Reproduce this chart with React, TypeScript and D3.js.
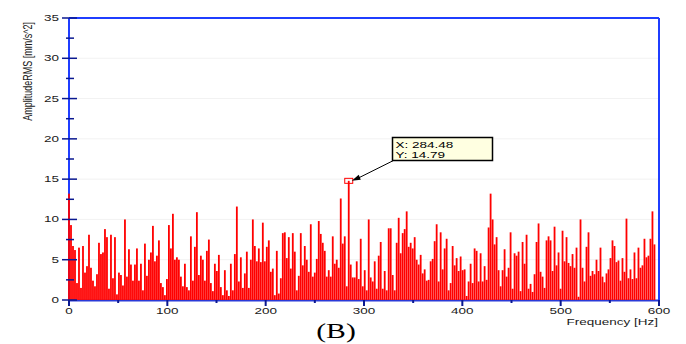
import React from 'react';
import * as d3 from 'd3';

// amplitude spectrum, one value per frequency line
const amp0to100 = [
  13.2, 9.3, 6.7, 6.2, 2.1, 6.5, 1.5, 6.7, 3.4, 4.2,
  8.1, 4.0, 2.4, 1.7, 3.2, 7.1, 5.7, 5.9, 8.8, 7.8,
  1.4, 8.1, 2.7, 7.8, 0.7, 3.4, 3.1, 1.8, 10.0, 2.9,
  6.3, 4.4, 2.4, 4.4, 6.4, 2.4, 4.5, 1.2, 7.0, 3.0,
  5.0, 5.9, 9.2, 4.8, 5.5, 7.4, 2.1, 1.6, 0.6, 2.6,
  9.3,
];
const amp100to200 = [
  6.4, 10.7, 5.0, 5.3, 5.0, 2.9, 1.7, 4.5, 1.6, 1.2,
  7.9, 2.4, 6.6, 10.9, 3.1, 5.5, 5.0, 2.4, 6.1, 7.5,
  2.1, 1.1, 4.5, 3.6, 5.6, 1.6, 0.6, 3.7, 1.2, 0.5,
  4.5, 1.2, 5.7, 11.6, 2.3, 5.3, 1.5, 3.3, 6.0, 1.5,
  5.0, 10.0, 6.7, 4.8, 6.4, 4.7, 9.6, 4.8, 6.6, 7.4,
  3.5, 3.9,
];
const amp200to310 = [
  0.6, 6.1, 0.8, 2.7, 8.3, 8.4, 5.2, 7.8, 3.9, 8.3,
  6.0, 1.2, 3.0, 8.3, 4.3, 6.7, 5.0, 3.5, 9.4, 2.9,
  3.4, 5.1, 9.8, 8.2, 7.1, 6.1, 2.9, 3.7, 2.9, 7.9,
  4.5, 5.0, 4.0, 12.6, 7.0, 7.9, 1.7, 14.79, 4.4, 2.8,
  2.8, 4.8, 2.6, 7.6, 1.7, 3.7, 1.2, 10.0, 2.8, 2.3,
  4.8, 1.4, 5.5,
];
const amp310to420 = [
  7.2, 1.4, 3.6, 1.2, 8.9, 8.9, 3.1, 1.2, 7.1, 10.2,
  5.8, 8.3, 8.8, 11.0, 6.6, 7.1, 6.4, 7.8, 5.0, 4.4,
  5.6, 3.3, 3.8, 2.4, 2.5, 4.8, 5.1, 7.3, 9.4, 2.3,
  8.4, 3.8, 6.4, 7.6, 1.2, 2.1, 6.7, 4.3, 5.2, 3.6,
  5.4, 3.7, 3.8, 0.5, 2.3, 4.5, 2.1, 6.4, 6.1, 2.3,
  5.8, 2.3, 4.2,
];
const amp420to530 = [
  2.5, 9.0, 13.2, 10.0, 6.9, 7.8, 3.7, 1.7, 3.7, 6.3,
  2.9, 4.0, 8.4, 1.4, 5.8, 5.5, 6.0, 1.1, 7.2, 4.5,
  8.1, 1.4, 2.0, 1.0, 3.2, 7.2, 9.5, 3.5, 2.9, 1.5,
  7.4, 7.9, 7.4, 3.6, 9.1, 4.3, 5.9, 1.4, 8.6, 4.8,
  7.8, 4.6, 4.2, 5.7, 4.0, 6.5, 0.4, 10.0, 4.0, 2.3,
  6.6, 8.4,
];
const amp530to600 = [
  3.0, 3.6, 3.2, 5.0, 3.6, 6.5, 2.9, 2.2, 3.3, 3.8,
  5.2, 7.4, 6.7, 4.7, 4.9, 2.4, 5.2, 3.5, 10.1, 2.7,
  3.8, 2.6, 5.9, 2.7, 6.5, 4.0, 4.3, 7.6, 5.3, 5.5,
  7.6, 11.0, 6.9,
];

const peakFreq = 284.48;
const peakAmp = 14.79;
const peakIndex = 140;
const xTicks = [0, 100, 200, 300, 400, 500, 600];
const yTicks = [0, 5, 10, 15, 20, 25, 30, 35];

const amps = [...amp0to100, ...amp100to200, ...amp200to310, ...amp310to420, ...amp420to530, ...amp530to600];
const df = peakFreq / peakIndex;

const SX = 1.5; // the picture is stretched sideways, text too
const sans = '"Liberation Sans", Arial, sans-serif';

function SText({ x, y, size, anchor = 'start', sx = SX, fill = '#1a1a1a', family = sans, children }: any) {
  return (
    <text transform={`translate(${x},${y}) scale(${sx},1)`} fontSize={size} fontFamily={family}
      textAnchor={anchor} fill={fill}>{children}</text>
  );
}

export default function App() {
  const x = d3.scaleLinear().domain([0, 600]).range([69, 659]);
  const y = d3.scaleLinear().domain([0, 35]).range([300, 18]);
  const minorX = d3.range(50, 600, 100);
  const minorY = d3.range(2.5, 35, 5);

  const px = x(peakFreq);
  const py = y(peakAmp);
  const boxX = 392.5, boxY = 137.5;

  return (
    <svg width={686} height={344} style={{ position: 'absolute', left: 0, top: 0, background: '#fff' }}>
      {/* faint grid */}
      {yTicks.slice(1, -1).map(t => (
        <line key={'g' + t} x1={x(0)} x2={x(600)} y1={y(t)} y2={y(t)} stroke="#f2f2f2" strokeWidth={1} />
      ))}

      {/* frame */}
      <line x1={x(0)} x2={x(600)} y1={y(35)} y2={y(35)} stroke="#1f3dff" strokeWidth={2} />
      <line x1={x(600)} x2={x(600)} y1={y(35)} y2={305} stroke="#1f3dff" strokeWidth={2} />
      <line x1={x(0)} x2={x(0)} y1={y(35)} y2={y(0)} stroke="#1f3dff" strokeWidth={2} />
      <line x1={x(0)} x2={x(600)} y1={y(0) + 0.5} y2={y(0) + 0.5} stroke="#2a3ad8" strokeWidth={2} />

      {/* bars */}
      {amps.map((a, i) => (
        <rect key={i} x={x(i * df) - 0.9} width={1.8} y={y(a)} height={y(0) - y(a)} fill="#ff0000" />
      ))}

      {/* y ticks */}
      {yTicks.map(t => (
        <g key={'y' + t}>
          <line x1={62} x2={77} y1={y(t)} y2={y(t)} stroke="#0a1890" strokeWidth={1.5} />
          <SText x={59} y={y(t) + 3} size={9} anchor="end">{t}</SText>
        </g>
      ))}
      {minorY.map(t => (
        <line key={'ym' + t} x1={66} x2={74} y1={y(t)} y2={y(t)} stroke="#0a1890" strokeWidth={1.5} />
      ))}

      {/* x ticks */}
      {xTicks.map(t => (
        <g key={'x' + t}>
          <line x1={x(t)} x2={x(t)} y1={y(0)} y2={306} stroke="#0a1890" strokeWidth={2} />
          <SText x={x(t)} y={314} size={9} anchor="middle">{t}</SText>
        </g>
      ))}
      {minorX.map(t => (
        <line key={'xm' + t} x1={x(t)} x2={x(t)} y1={y(0)} y2={303} stroke="#0a1890" strokeWidth={2} />
      ))}

      {/* axis titles */}
      <SText x={658} y={325} size={9} anchor="end">Frequency [Hz]</SText>
      <text transform={`translate(32,22) scale(${SX},1) rotate(-90)`} fontSize={9} fontFamily={sans}
        textAnchor="end" fill="#1a1a1a">AmplitudeRMS [mm/s^2]</text>

      {/* peak marker and readout */}
      <rect x={px - 4} y={py - 2.5} width={8} height={5} fill="none" stroke="#ff0000" strokeWidth={1} />
      <line x1={boxX + 1} y1={boxY + 23} x2={px + 8} y2={py - 2} stroke="#000" strokeWidth={1} />
      <path d={`M${px + 3},${py} L${px + 10},${py - 6} L${px + 12},${py - 1} Z`} fill="#000" />
      <rect x={boxX} y={boxY} width={100} height={23} fill="#ffffe1" stroke="#000" strokeWidth={1.5} />
      <SText x={boxX + 3} y={boxY + 10.5} size={9} fill="#000">X: {peakFreq.toFixed(2)}</SText>
      <SText x={boxX + 3} y={boxY + 20.5} size={9} fill="#000">Y: {peakAmp.toFixed(2)}</SText>

      {/* panel label */}
      <SText x={336} y={338} size={22} anchor="middle" sx={1.35} fill="#000"
        family='"Liberation Serif", "Times New Roman", serif'>(B)</SText>
    </svg>
  );
}
